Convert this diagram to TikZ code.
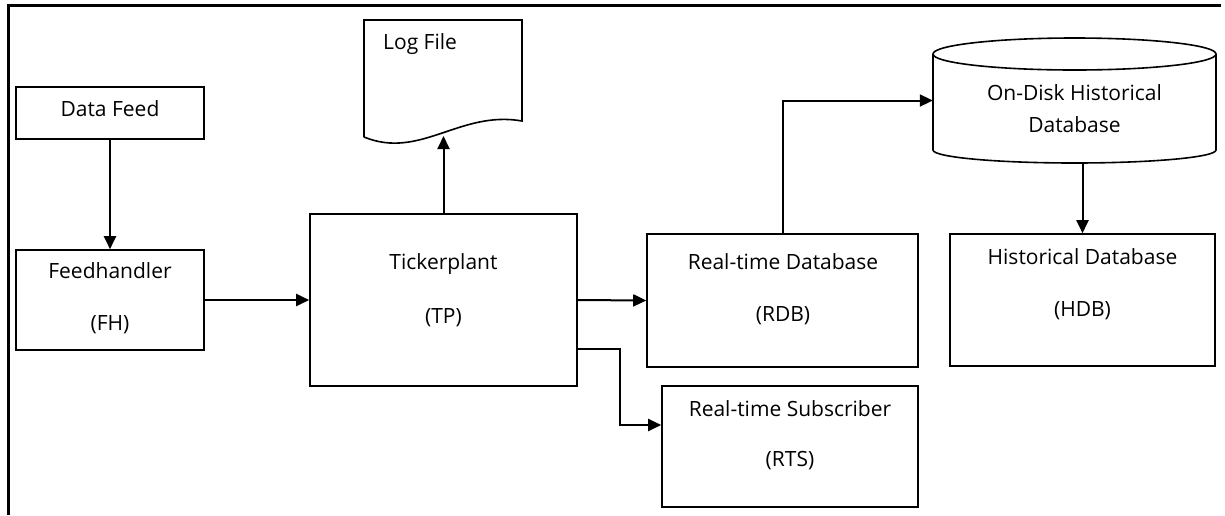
\documentclass[tikz,border=0pt]{standalone}
\usepackage{fontspec}
\setmainfont{Open Sans}
\usetikzlibrary{arrows.meta}
\begin{document}
\begin{tikzpicture}[x=1pt,y=-1pt,
  stepbox/.style={draw,line width=1.6pt,rectangle,inner sep=0pt},
  ghost/.style={rectangle,inner sep=0pt},
  txt/.style={font=\fontsize{21}{26}\selectfont,align=center,inner sep=0pt},
  arr/.style={line width=2pt,-{Triangle[length=13pt,width=12pt]}},
  frameline/.style={line width=3pt}]
\useasboundingbox (0,0) rectangle (1225,515);
% frame (top and left only)
\coordinate (ftr) at (1221,5);
\coordinate (ftl) at (8,5);
\coordinate (fbl) at (8,515);
\draw[frameline] (ftr) -- (ftl) -- (fbl);

% boxes
\node[stepbox,minimum width=188,minimum height=52] (df) at (110,113) {};
\node[txt] (dft) at (110,108.5) {Data Feed};
\node[stepbox,minimum width=188,minimum height=100] (fh) at (110,300) {};
\node[txt] (fht) at (110,298.5) {Feedhandler\\[26pt](FH)};
\node[stepbox,minimum width=267,minimum height=172] (tp) at (443.5,300) {};
\node[txt] (tpt) at (443.5,290) {Tickerplant\\[28pt](TP)};
\node[stepbox,minimum width=271,minimum height=133] (rdb) at (782.5,300.5) {};
\node[txt] (rdbt) at (783,289) {Real-time Database\\[26pt](RDB)};
\node[stepbox,minimum width=256,minimum height=121] (rts) at (790,446.5) {};
\node[txt] (rtst) at (790,435) {Real-time Subscriber\\[24pt](RTS)};
\node[stepbox,minimum width=265,minimum height=132] (hdb) at (1082.5,300) {};
\node[txt] (hdbt) at (1082.5,284) {Historical Database\\[26pt](HDB)};

% log file (document shape)
\node[ghost,minimum width=158,minimum height=125] (log) at (443,80) {};
\draw[line width=1.6pt] (364,137) -- (364,20) -- (522,20) -- (522,121)
  .. controls (460,110) and (420,160) .. (364,137);
\node[txt,anchor=base west] (logt) at (383,49) {Log File};
\coordinate (login) at (443.5,136);

% cylinder
\node[ghost,minimum width=283,minimum height=125] (cyl) at (1074.5,100.5) {};
\draw[line width=1.6pt] (933,54) -- (933,150)
  .. controls (933,157.18) and (996.35,163) .. (1074.5,163)
  .. controls (1152.65,163) and (1216,157.18) .. (1216,150) -- (1216,54);
\draw[line width=1.6pt] (1074.5,54) ellipse [x radius=141.5, y radius=16];
\node[txt] (cylt) at (1074.5,109) {On-Disk Historical\\[6pt]Database};

% connectors
\draw[arr] (df.south) -- (fh.north);
\draw[arr] (fh.east) -- (tp.west);
\draw[arr] (tp.north) -- (login);
\draw[arr] (tp.east) -- (rdb.west);
\draw[arr] ([yshift=-49pt]tp.east) -- ++(42,0) |- ([yshift=21.5pt]rts.west);
\draw[arr] (rdb.north) |- (cyl.west);
\draw[arr] (hdb.north |- cyl.south) -- (hdb.north);
\end{tikzpicture}
\end{document}
